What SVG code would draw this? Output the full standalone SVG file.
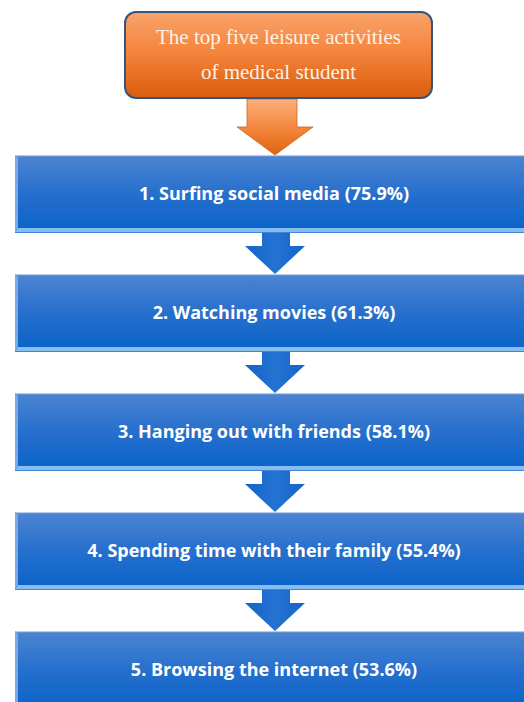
<svg xmlns="http://www.w3.org/2000/svg" width="524" height="702" viewBox="0 0 524 702">
  <defs>
    <linearGradient id="orangeFill" x1="0" y1="0" x2="0" y2="1">
      <stop offset="0" stop-color="#f9a36a"/>
      <stop offset="0.45" stop-color="#f5853e"/>
      <stop offset="1" stop-color="#d95d0b"/>
    </linearGradient>
    <linearGradient id="orangeArrowFill" x1="0" y1="0" x2="0" y2="1">
      <stop offset="0" stop-color="#fbb07c"/>
      <stop offset="0.5" stop-color="#f4883f"/>
      <stop offset="1" stop-color="#de630d"/>
    </linearGradient>
    <linearGradient id="blueFill" x1="0" y1="0" x2="0" y2="1">
      <stop offset="0" stop-color="#4d85d1"/>
      <stop offset="0.5" stop-color="#266fcd"/>
      <stop offset="1" stop-color="#0863c8"/>
    </linearGradient>
    <linearGradient id="blueArrowFill" x1="0" y1="0" x2="1" y2="0">
      <stop offset="0" stop-color="#1364c8"/>
      <stop offset="0.5" stop-color="#2473d2"/>
      <stop offset="1" stop-color="#1364c8"/>
    </linearGradient>
    <!-- beveled blue step box, 520 wide, 78 tall -->
    <g id="stepBox">
      <rect x="0" y="0" width="520" height="78" fill="url(#blueFill)"/>
      <rect x="0" y="0" width="520" height="1.2" fill="#b9cdea"/>
      <polygon points="0,0 3,3 3,73 0,78" fill="#78a9e6"/>
      <polygon points="0,78 3,73 520,73 520,78" fill="#86bdf1"/>
      <rect x="0" y="77" width="520" height="1" fill="#3f86d8"/>
    </g>
    <!-- blue down arrow between steps, origin at the upper box bottom -->
    <g id="stepArrow">
      <polygon points="-13,-6 15,-6 15,13 30,13 0,41 -30,13 -13,13" fill="url(#blueArrowFill)"/>
    </g>
  </defs>

  <style>
    .title { font-family: "Liberation Serif", "Times New Roman", serif; font-size: 21px; fill: #fdf1e4; text-anchor: middle; }
    .step { font-family: "Open Sans", "Liberation Sans", sans-serif; font-weight: 700; font-size: 18px; fill: #ffffff; text-anchor: middle; }
  </style>

  <rect width="524" height="702" fill="#ffffff"/>

  <!-- connectors -->
  <g id="connectors">
    <polygon points="247,99 297,99 297,127 313,127 275,155 237,127 247,127" fill="url(#orangeArrowFill)" stroke="#c9671f" stroke-width="0.8"/>
    <use href="#stepArrow" x="275" y="233"/>
    <use href="#stepArrow" x="275" y="352"/>
    <use href="#stepArrow" x="275" y="471"/>
    <use href="#stepArrow" x="275" y="590"/>
  </g>

  <g id="title-node">
    <rect x="125" y="12" width="307" height="86" rx="11" ry="11" fill="url(#orangeFill)" stroke="#35557f" stroke-width="2"/>
    <text class="title" x="278.5" y="44">The top five leisure activities</text>
    <text class="title" x="278.5" y="79">of medical student</text>
  </g>

  <g id="step-1">
    <use href="#stepBox" x="15" y="155"/>
    <text class="step" x="274" y="200">1. Surfing social media (75.9%)</text>
  </g>
  <g id="step-2">
    <use href="#stepBox" x="15" y="274"/>
    <text class="step" x="274" y="319">2. Watching movies (61.3%)</text>
  </g>
  <g id="step-3">
    <use href="#stepBox" x="15" y="393"/>
    <text class="step" x="274" y="438">3. Hanging out with friends (58.1%)</text>
  </g>
  <g id="step-4">
    <use href="#stepBox" x="15" y="512"/>
    <text class="step" x="274" y="557">4. Spending time with their family (55.4%)</text>
  </g>
  <g id="step-5">
    <use href="#stepBox" x="15" y="631"/>
    <text class="step" x="274" y="676">5. Browsing the internet (53.6%)</text>
  </g>
</svg>
